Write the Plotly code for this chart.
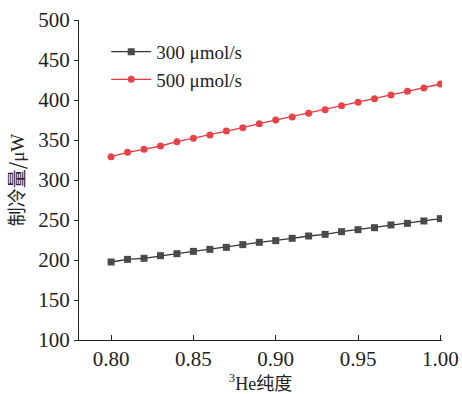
import plotly.graph_objects as go

purity = [0.80, 0.81, 0.82, 0.83, 0.84, 0.85, 0.86, 0.87, 0.88, 0.89, 0.90,
          0.91, 0.92, 0.93, 0.94, 0.95, 0.96, 0.97, 0.98, 0.99, 1.00]
q_300 = [197.5, 200.8, 202.1, 205.4, 207.9, 210.8, 213.3, 215.8, 219.2, 222.1, 224.2,
         227.1, 230.0, 232.1, 235.4, 237.9, 240.4, 243.8, 245.8, 248.8, 251.7]
q_500 = [329.2, 334.6, 338.3, 342.5, 347.9, 352.1, 356.3, 361.3, 365.4, 370.4, 375.0,
         378.8, 383.3, 387.9, 392.9, 397.1, 401.7, 406.3, 410.8, 415.0, 420.0]
names = ["300 μmol/s", "500 μmol/s"]
y_ticks = [100, 150, 200, 250, 300, 350, 400, 450, 500]
x_ticks = [0.80, 0.85, 0.90, 0.95, 1.00]

FONT = "Liberation Serif, Noto Sans CJK SC, serif"
CJK = "Noto Sans CJK SC, Liberation Serif, sans-serif"

fig = go.Figure()
fig.add_trace(go.Scatter(
    x=purity, y=q_300, name=names[0], mode="lines+markers",
    line=dict(color="#333333", width=1.3),
    marker=dict(symbol="square", size=7, color="#4a4a4a"),
))
fig.add_trace(go.Scatter(
    x=purity, y=q_500, name=names[1], mode="lines+markers",
    line=dict(color="#e8383d", width=1.3),
    marker=dict(symbol="circle", size=7, color="#e84348"),
))

fig.update_layout(
    width=462, height=394,
    margin=dict(l=79, r=20, t=20, b=54),
    plot_bgcolor="white", paper_bgcolor="white",
    font=dict(family=FONT, size=21, color="#222222"),
    showlegend=True,
    legend=dict(x=0.075, y=0.96, xanchor="left", yanchor="top",
                bgcolor="rgba(0,0,0,0)", font=dict(size=19),
                itemwidth=40, tracegroupgap=0),
    xaxis=dict(
        range=[0.7805, 1.001], tickvals=x_ticks, tickformat=".2f",
        showline=True, linecolor="#222222", linewidth=1.2,
        ticks="inside", ticklen=5, tickcolor="#222222", tickwidth=1.2,
        showgrid=False, zeroline=False, automargin=False,
        title=dict(text="<sup>3</sup>He纯度", font=dict(size=18), standoff=8),
    ),
    yaxis=dict(
        range=[100, 500], tickvals=y_ticks,
        showline=True, linecolor="#222222", linewidth=1.2,
        ticks="outside", ticklen=4, tickcolor="#222222", tickwidth=1.2,
        showgrid=False, zeroline=False, automargin=False,
        title=dict(text='制冷量/<span style="font-family:Liberation Serif">μW</span>',
                   font=dict(size=19, family=CJK, color="#222222"), standoff=8),
    ),
)

fig.write_html("out.html")
